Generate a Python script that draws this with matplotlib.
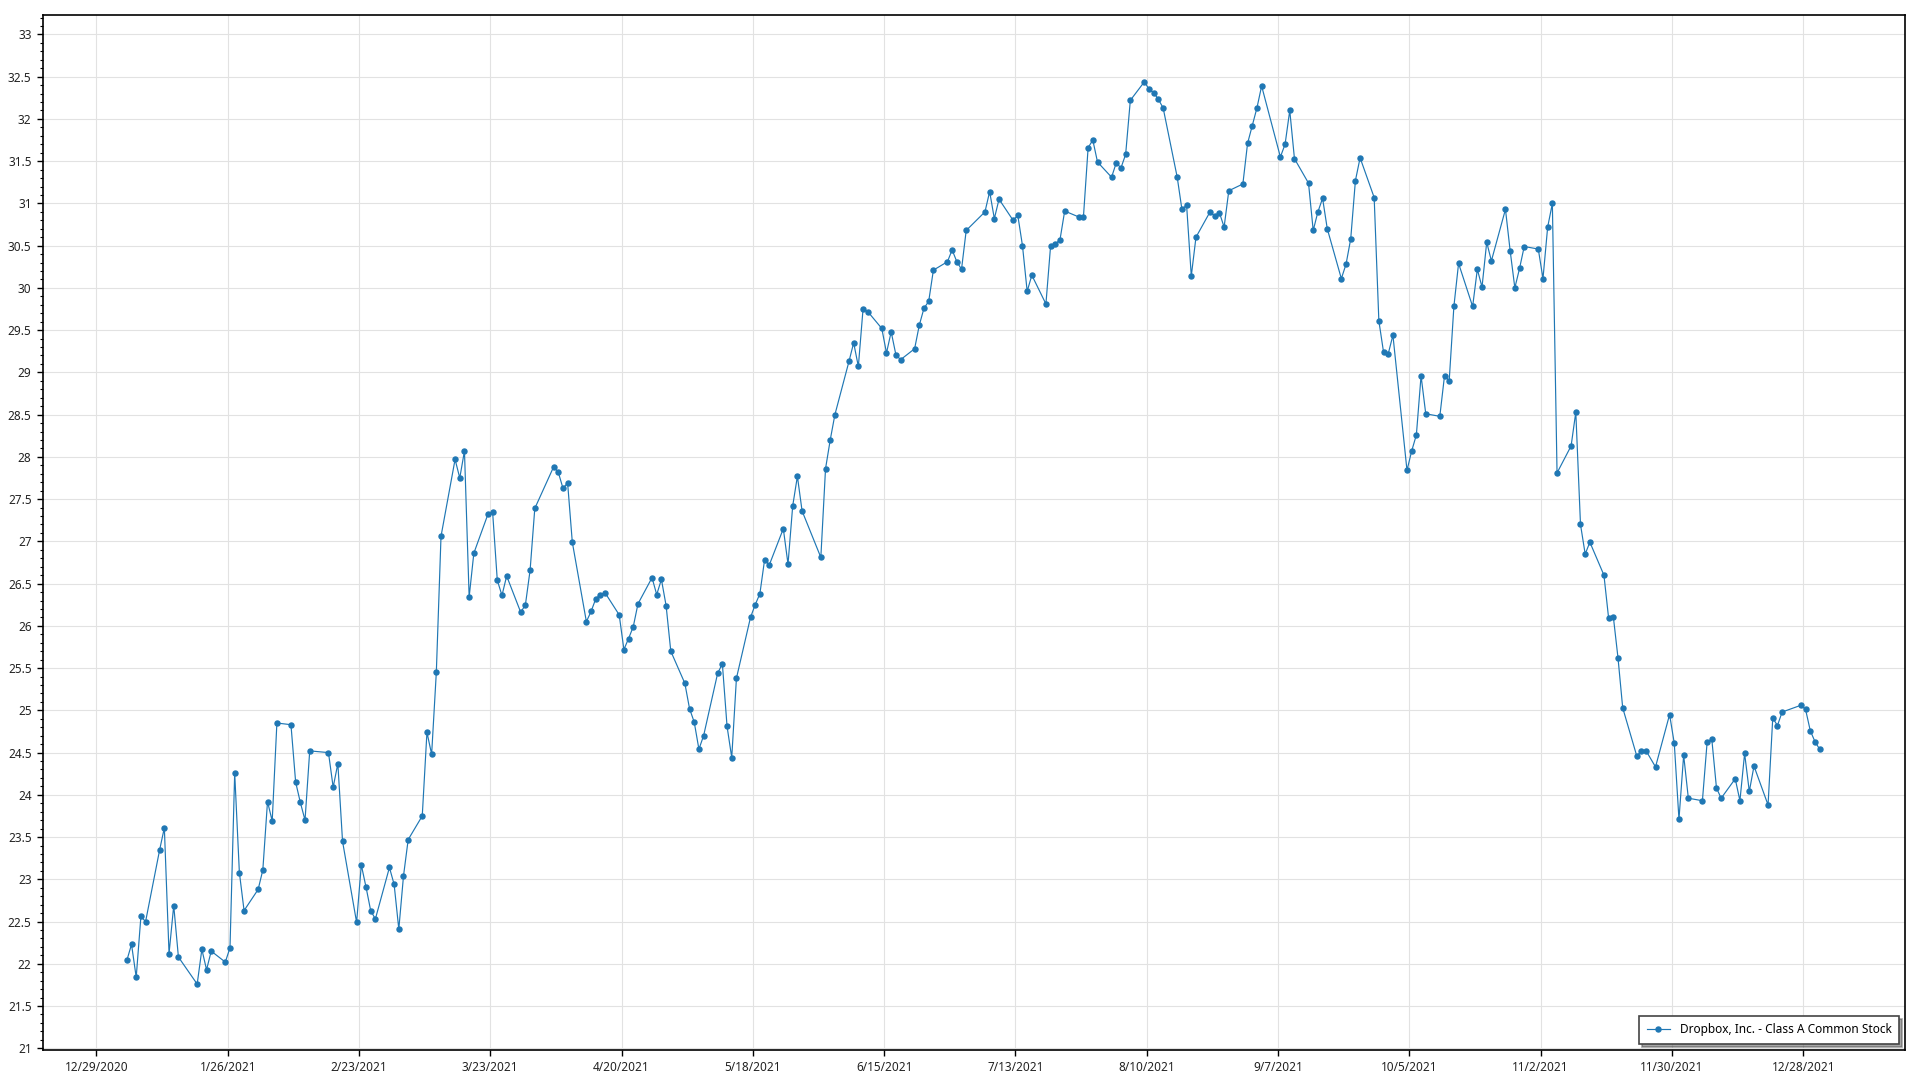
import numpy as np
import pandas as pd
import matplotlib
matplotlib.use('Agg')
import matplotlib.pyplot as plt
import matplotlib.dates as mdates
from matplotlib.ticker import MultipleLocator, FuncFormatter, FixedLocator

# daily closes, one list per month (trading days only)
jan = [22.04, 22.23, 21.84, 22.56, 22.50, 23.35, 23.61, 22.12, 22.69, 22.08,
       21.76, 22.17, 21.93, 22.15, 22.02, 22.19, 24.26, 23.08, 22.63]
feb = [22.88, 23.11, 23.92, 23.69, 24.85, 24.83, 24.15, 23.91, 23.70, 24.52,
       24.50, 24.09, 24.37, 23.45, 22.49, 23.17, 22.91, 22.63, 22.53]
mar = [23.14, 22.94, 22.41, 23.04, 23.47, 23.75, 24.74, 24.48, 25.45, 27.06,
       27.97, 27.75, 28.07, 26.34, 26.86, 27.32, 27.35, 26.54, 26.36, 26.59,
       26.16, 26.25, 26.66]
apr = [27.39, 27.88, 27.82, 27.63, 27.69, 26.99, 26.05, 26.17, 26.32, 26.37,
       26.39, 26.13, 25.72, 25.85, 25.99, 26.26, 26.57, 26.37, 26.55, 26.24,
       25.70]
may = [25.32, 25.02, 24.86, 24.54, 24.70, 25.44, 25.55, 24.81, 24.44, 25.38,
       26.10, 26.25, 26.38, 26.78, 26.72, 27.15, 26.73, 27.42, 27.77, 27.36]
jun = [26.81, 27.86, 28.20, 28.50, 29.13, 29.35, 29.07, 29.75, 29.72, 29.52,
       29.23, 29.48, 29.21, 29.15, 29.28, 29.56, 29.76, 29.84, 30.21, 30.31,
       30.45, 30.31]
jul = [30.22, 30.68, 30.90, 31.14, 30.82, 31.05, 30.80, 30.86, 30.50, 29.96,
       30.15, 29.81, 30.50, 30.52, 30.57, 30.91, 30.84, 30.84, 31.66, 31.75,
       31.49]
aug = [31.31, 31.48, 31.42, 31.58, 32.22, 32.44, 32.35, 32.31, 32.23, 32.13,
       31.31, 30.93, 30.98, 30.14, 30.60, 30.90, 30.85, 30.89, 30.72, 31.15,
       31.23, 31.71]
sep = [31.92, 32.13, 32.39, 31.55, 31.70, 32.10, 31.53, 31.24, 30.68, 30.90,
       31.06, 30.70, 30.11, 30.28, 30.58, 31.27, 31.54, 31.07, 29.61, 29.24,
       29.22]
oct_ = [29.44, 27.84, 28.07, 28.26, 28.96, 28.51, 28.48, 28.96, 28.90, 29.78,
        30.29, 29.78, 30.22, 30.01, 30.54, 30.32, 30.93, 30.44, 30.00, 30.23,
        30.49]
nov = [30.46, 30.11, 30.72, 31.00, 27.81, 28.13, 28.53, 27.20, 26.85, 26.99,
       26.60, 26.09, 26.11, 25.62, 25.03, 24.46, 24.52, 24.52, 24.33, 24.95,
       24.61]
dec = [23.71, 24.47, 23.96, 23.93, 24.62, 24.66, 24.08, 23.96, 24.19, 23.93,
       24.49, 24.04, 24.34, 23.88, 24.91, 24.82, 24.98, 25.06, 25.01, 24.76,
       24.63, 24.54]

market_holidays = ['2021-01-01', '2021-01-18', '2021-02-15', '2021-04-02',
                   '2021-05-31', '2021-07-05', '2021-09-06', '2021-11-25',
                   '2021-12-24']
series_name = 'Dropbox, Inc. - Class A Common Stock'

closes = jan + feb + mar + apr + may + jun + jul + aug + sep + oct_ + nov + dec
dates = pd.bdate_range('2021-01-01', '2021-12-31', freq='C', holidays=market_holidays)
assert len(dates) == len(closes)
# points sit about half a day right of the date gridlines in the original
dates = dates + pd.Timedelta(hours=12)

plt.rcParams['font.family'] = ['Noto Sans', 'DejaVu Sans']

fig = plt.figure(figsize=(19.2, 10.8), dpi=100)
ax = fig.add_axes([0.0222, 0.0278, 0.9700, 0.9583])

ax.plot(dates, closes, color='#1f77b4', linewidth=0.85, marker='o',
        markersize=3.6, label=series_name)

# axes ranges
ax.set_ylim(20.98, 33.23)
ax.set_xlim(pd.Timestamp('2020-12-17 13:00'), pd.Timestamp('2022-01-18 17:00'))

# ticks: every 28 days on x, 0.5 major / 0.1 minor on y
tick_days = pd.date_range('2020-12-29', periods=14, freq='28D')
ax.xaxis.set_major_locator(FixedLocator(mdates.date2num(tick_days)))
ax.xaxis.set_major_formatter(FuncFormatter(
    lambda v, p: '{0.month}/{0.day}/{0.year}'.format(mdates.num2date(v))))
ax.yaxis.set_major_locator(MultipleLocator(0.5))
ax.yaxis.set_minor_locator(MultipleLocator(0.1))
ax.yaxis.set_major_formatter(FuncFormatter(lambda v, p: '{:g}'.format(round(v, 2))))

ax.tick_params(axis='both', which='major', labelsize=8.5, colors='black',
               labelcolor='#222222', length=4, width=1, direction='out')
ax.tick_params(axis='y', which='minor', length=2.5, width=0.8, colors='black')
ax.tick_params(axis='x', pad=4)
ax.tick_params(axis='y', pad=4)

ax.grid(True, which='major', color='#e2e2e2', linewidth=0.8)
ax.set_axisbelow(True)
for s in ax.spines.values():
    s.set_color('black')
    s.set_linewidth(1.2)

leg = ax.legend(loc='lower right', fontsize=8.5, fancybox=False, shadow=True,
                framealpha=1, edgecolor='#444444', borderaxespad=0.5,
                handlelength=2.0, borderpad=0.65)
leg.get_frame().set_linewidth(1.2)

fig.savefig('out.png', dpi=100, facecolor='white')
